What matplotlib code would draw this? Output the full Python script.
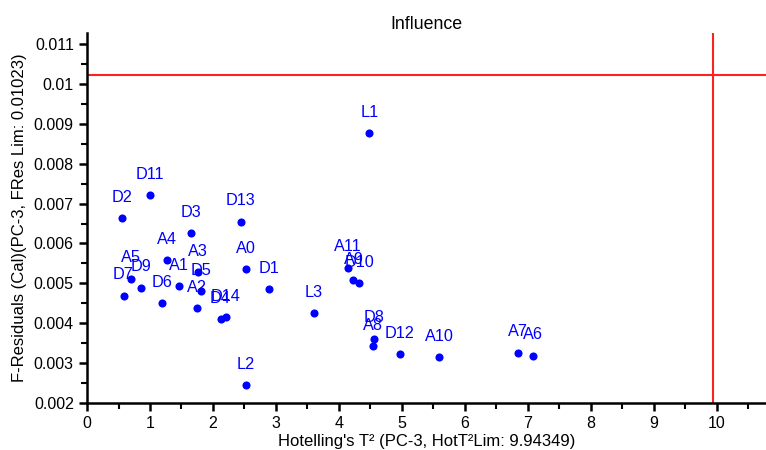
import numpy as np
import matplotlib.pyplot as plt
from matplotlib.ticker import MultipleLocator

plt.rcParams['font.family'] = ['Liberation Sans', 'DejaVu Sans']

# sample names with Hotelling T2 and F-residuals (PC-3)
names = ["L1", "D11", "D2", "D13", "D3", "A4", "D7", "A5", "D9", "D6", "A1",
         "A2", "A3", "D5", "D4", "D14", "A0", "L2", "D1", "L3", "A11", "A9",
         "D10", "A8", "D8", "D12", "A10", "A7", "A6"]
hot_t2 = [4.48, 1.00, 0.56, 2.44, 1.65, 1.27, 0.58, 0.70, 0.85, 1.19, 1.46,
          1.74, 1.76, 1.81, 2.12, 2.20, 2.52, 2.52, 2.89, 3.60, 4.14, 4.23,
          4.32, 4.54, 4.55, 4.97, 5.59, 6.84, 7.08]
f_res = [0.00876, 0.00721, 0.00663, 0.00655, 0.00626, 0.00558, 0.00469,
         0.00512, 0.00489, 0.00451, 0.00493, 0.00438, 0.00528, 0.00481,
         0.00411, 0.00415, 0.00535, 0.00245, 0.00485, 0.00426, 0.00539,
         0.00508, 0.00501, 0.00342, 0.00361, 0.00322, 0.00315, 0.00326,
         0.00319]

hot_lim = 9.94349
fres_lim = 0.01023

fig = plt.figure(figsize=(7.66, 4.5), dpi=100)
ax = fig.add_axes([0.1136, 0.1044, 0.8864, 0.8223])

ax.scatter(hot_t2, f_res, s=34, color='#0000ff', zorder=3, linewidths=0)
for n, x, y in zip(names, hot_t2, f_res):
    ax.annotate(n, (x, y), xytext=(0, 15), textcoords='offset points',
                ha='center', va='center', color='#0000ff', fontsize=11.7)

ax.axhline(fres_lim, color='#ff2020', lw=1.5)
ax.axvline(hot_lim, color='#ff2020', lw=1.5)

ax.set_xlim(0, 10.78)
ax.set_ylim(0.002, 0.011276)
ax.xaxis.set_major_locator(MultipleLocator(1))
ax.xaxis.set_minor_locator(MultipleLocator(0.5))
ax.yaxis.set_major_locator(MultipleLocator(0.001))
ax.yaxis.set_minor_locator(MultipleLocator(0.0005))
ax.yaxis.set_major_formatter(plt.FuncFormatter(lambda v, p: ('%.3f' % v).rstrip('0')))

for s in ['top', 'right']:
    ax.spines[s].set_visible(False)
for s in ['left', 'bottom']:
    ax.spines[s].set_linewidth(1.8)
ax.tick_params(which='major', length=6, width=1.8, labelsize=11.5)
ax.tick_params(which='minor', length=4, width=1.5)

ax.set_title("Influence", fontsize=12.8, pad=2.5)
ax.set_xlabel("Hotelling's T² (PC-3, HotT²Lim: 9.94349)", fontsize=12, labelpad=2)
ax.set_ylabel("F-Residuals (Cal)(PC-3, FRes Lim: 0.01023)", fontsize=12, labelpad=5)

fig.savefig("out.png", dpi=100)
